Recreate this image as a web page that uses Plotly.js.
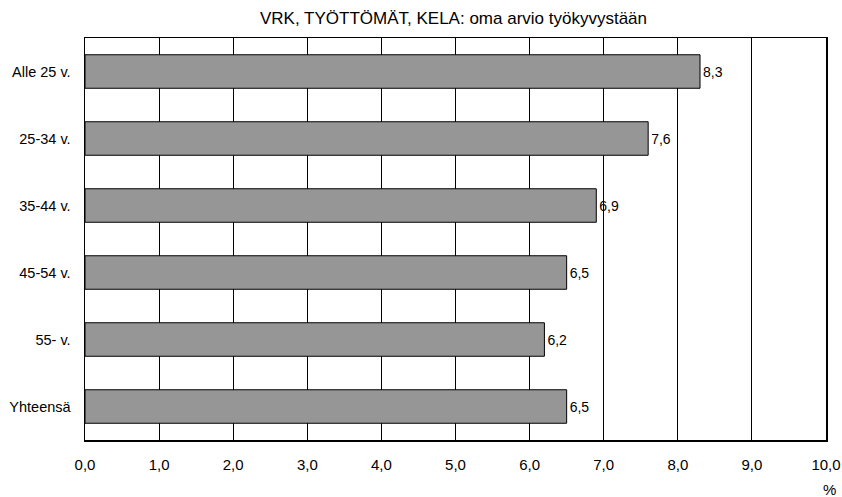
<!DOCTYPE html>
<html>
<head>
<meta charset="utf-8">
<script src="https://cdn.plot.ly/plotly-3.0.1.min.js"></script>
<style>html,body{margin:0;padding:0;background:#fff;}#chart{width:842px;height:497px;}</style>
</head>
<body>
<div id="chart"></div>
<script>
const categories = ["Alle 25 v.", "25-34 v.", "35-44 v.", "45-54 v.", "55- v.", "Yhteensä"];
const values = [8.3, 7.6, 6.9, 6.5, 6.2, 6.5];
const tickValues = [0,1,2,3,4,5,6,7,8,9,10];
const chartTitle = "VRK, TYÖTTÖMÄT, KELA: oma arvio työkyvystään";
const unitLabel = "%";

const trace = {
  type: "bar",
  orientation: "h",
  y: categories,
  x: values,
  marker: {color: "#969696", line: {color: "#000000", width: 1}},
  text: values,
  texttemplate: "%{x:.1f}",
  textposition: "outside",
  cliponaxis: false,
  textfont: {family: "Liberation Sans, Arial, sans-serif", size: 14, color: "#000"},
  hoverinfo: "none"
};

const layout = {
  width: 842, height: 497,
  margin: {l: 84.5, r: 16, t: 38, b: 57, pad: 0},
  paper_bgcolor: "#fff", plot_bgcolor: "#fff",
  separators: ",.",
  font: {family: "Liberation Sans, Arial, sans-serif", size: 14.5, color: "#000"},
  title: {text: chartTitle, x: 0.5386, xanchor: "center", y: 0.963, yanchor: "middle",
          font: {size: 17, color: "#000"}},
  bargap: 0.5,
  showlegend: false,
  xaxis: {
    range: [0, 10], tickvals: tickValues, tickformat: ".1f",
    showgrid: true, gridcolor: "#000", gridwidth: 1,
    showline: true, linecolor: "#000", linewidth: 1.5, mirror: true,
    ticks: "", ticklen: 0, zeroline: false,
    tickfont: {size: 15}, automargin: false, fixedrange: true,
    ticklabelstandoff: 10
  },
  yaxis: {
    autorange: "reversed", type: "category",
    showgrid: false, showline: true, linecolor: "#000", linewidth: 1.5, mirror: true,
    ticks: "", ticklen: 0, tickfont: {size: 14.5}, automargin: false, fixedrange: true,
    ticklabelstandoff: 10
  },
  annotations: [{
    text: unitLabel, xref: "paper", yref: "paper", x: 1.005, y: -0.124,
    xanchor: "center", yanchor: "middle", showarrow: false, font: {size: 15}
  }]
};

Plotly.newPlot("chart", [trace], layout, {displayModeBar: false, staticPlot: true});
</script>
</body>
</html>
